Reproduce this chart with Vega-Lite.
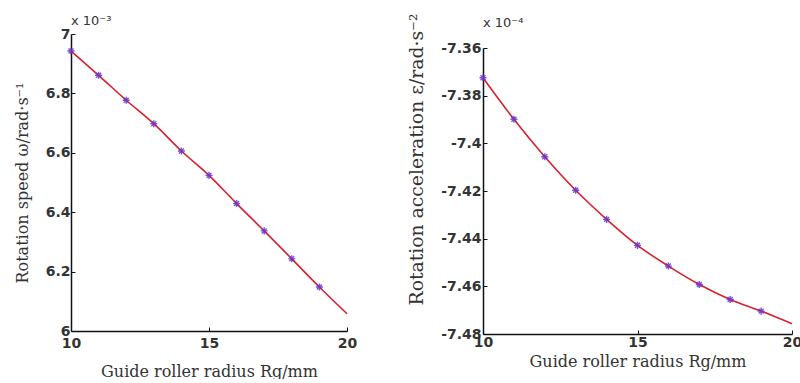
{
  "$schema": "https://vega.github.io/schema/vega-lite/v6.json",
  "background": "white",
  "padding": {"left": 14, "top": 13, "right": 0, "bottom": 0},
  "spacing": 50,
  "config": {
    "view": {"stroke": null},
    "axis": {
      "domainColor": "#111",
      "domainWidth": 1.5,
      "tickColor": "#111",
      "tickSize": -4,
      "grid": false,
      "labelFont": "DejaVu Sans",
      "labelFontSize": 14,
      "labelFontWeight": "bold",
      "labelColor": "#333",
      "titleFont": "DejaVu Serif",
      "titleFontSize": 16,
      "titleFontWeight": "normal",
      "titleColor": "#333"
    },
    "title": {"font": "DejaVu Sans", "fontSize": 13, "fontWeight": "normal", "color": "#333", "anchor": "start", "frame": "group", "offset": -1}
  },
  "datasets": {
    "speed": [
      {"r": 10, "v": 6.943},
      {"r": 11, "v": 6.861},
      {"r": 12, "v": 6.777},
      {"r": 13, "v": 6.698},
      {"r": 14, "v": 6.606},
      {"r": 15, "v": 6.524},
      {"r": 16, "v": 6.429},
      {"r": 17, "v": 6.337},
      {"r": 18, "v": 6.243},
      {"r": 19, "v": 6.148},
      {"r": 20, "v": 6.058}
    ],
    "accel": [
      {"r": 10, "v": -7.3725},
      {"r": 11, "v": -7.3899},
      {"r": 12, "v": -7.4056},
      {"r": 13, "v": -7.4197},
      {"r": 14, "v": -7.4319},
      {"r": 15, "v": -7.4428},
      {"r": 16, "v": -7.4515},
      {"r": 17, "v": -7.4592},
      {"r": 18, "v": -7.4655},
      {"r": 19, "v": -7.4704},
      {"r": 20, "v": -7.4757}
    ],
    "blank": [{"t": ""}]
  },
  "hconcat": [
    {
      "width": 276,
      "height": 297,
      "title": {"text": "x 10⁻³"},
      "data": {"name": "speed"},
      "encoding": {
        "x": {
          "field": "r", "type": "quantitative",
          "scale": {"domain": [10, 20], "nice": false, "zero": false},
          "axis": {"values": [10, 15, 20], "title": "Guide roller radius Rg/mm", "labelPadding": 9, "titlePadding": 13, "labelFlush": false}
        },
        "y": {
          "field": "v", "type": "quantitative",
          "scale": {"domain": [6, 7], "nice": false, "zero": false},
          "axis": {"values": [6, 6.2, 6.4, 6.6, 6.8, 7], "format": ".1~f", "title": "Rotation speed ω/rad·s⁻¹", "titleFontSize": 16, "labelPadding": 5, "titlePadding": 15}
        }
      },
      "layer": [
        {"mark": {"type": "line", "color": "#d8202c", "strokeWidth": 1.6, "interpolate": "monotone"}},
        {
          "transform": [{"filter": "datum.r < 20"}],
          "mark": {"type": "point", "shape": "M-1,0L1,0M0,-1L0,1M-0.7,-0.7L0.7,0.7M-0.7,0.7L0.7,-0.7", "filled": false, "stroke": "#6a34c8", "strokeWidth": 1.4, "size": 50, "opacity": 0.85}
        }
      ]
    },
    {
      "title": {"text": "x 10⁻⁴", "offset": -10, "dy": 7},
      "spacing": 0,
      "bounds": "flush",
      "vconcat": [
        {
          "width": 1,
          "height": 14,
          "data": {"name": "blank"},
          "mark": {"type": "text", "opacity": 0},
          "encoding": {"text": {"field": "t"}}
        },
        {
          "width": 309,
          "height": 286,
          "data": {"name": "accel"},
          "encoding": {
            "x": {
              "field": "r", "type": "quantitative",
              "scale": {"domain": [10, 20], "nice": false, "zero": false},
              "axis": {"values": [10, 15, 20], "title": "Guide roller radius Rg/mm", "labelPadding": 5, "titlePadding": 4, "labelFlush": false}
            },
            "y": {
              "field": "v", "type": "quantitative",
              "scale": {"domain": [-7.48, -7.36], "nice": false, "zero": false},
              "axis": {"values": [-7.48, -7.46, -7.44, -7.42, -7.4, -7.38, -7.36], "labelExpr": "replace(format(datum.value, '.2~f'), '−', '-')", "title": "Rotation acceleration ε/rad·s⁻²", "titleFontSize": 18.8, "labelPadding": 6, "titlePadding": 14, "titleY": 111}
            }
          },
          "layer": [
            {"mark": {"type": "line", "color": "#d8202c", "strokeWidth": 1.6, "interpolate": "monotone"}},
            {
              "transform": [{"filter": "datum.r < 20"}],
              "mark": {"type": "point", "shape": "M-1,0L1,0M0,-1L0,1M-0.7,-0.7L0.7,0.7M-0.7,0.7L0.7,-0.7", "filled": false, "stroke": "#6a34c8", "strokeWidth": 1.4, "size": 50, "opacity": 0.85}
            }
          ]
        }
      ]
    }
  ]
}
